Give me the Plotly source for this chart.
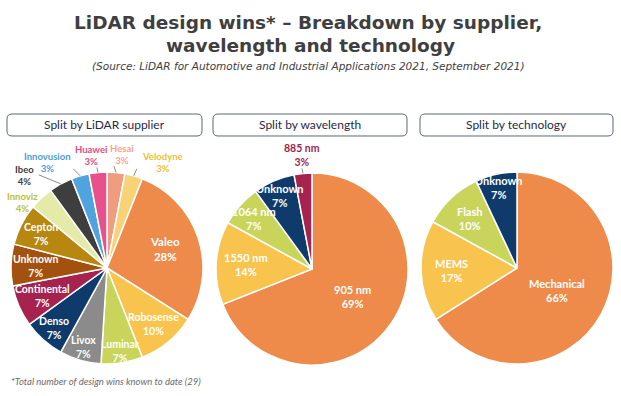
import math
import plotly.graph_objects as go

W, H = 621, 396

# ---------------- data ----------------
supplier_labels = ["Hesai", "Velodyne", "Valeo", "Robosense", "Luminar", "Livox", "Denso",
                   "Continental", "Unknown", "Cepton", "Innoviz", "Ibeo", "Innovusion", "Huawei"]
supplier_values = [3, 3, 28, 10, 7, 7, 7, 7, 7, 7, 4, 4, 3, 3]

wavelength_labels = ["905 nm", "1550 nm", "1064 nm", "Unknown", "885 nm"]
wavelength_values = [69, 14, 7, 7, 3]

technology_labels = ["Mechanical", "MEMS", "Flash", "Unknown"]
technology_values = [66, 17, 10, 7]

panel_titles = ["Split by LiDAR supplier", "Split by wavelength", "Split by technology"]

title_line1 = "LiDAR design wins* \u2013 Breakdown by supplier,"
title_line2 = "wavelength and technology"
subtitle = "(Source: LiDAR for Automotive and Industrial Applications 2021, September 2021)"
footnote = "*Total number of design wins known to date (29)"

# ---------------- styles ----------------
ORANGE = "#EE8A4A"
YELLOW = "#F8C44E"
YGREEN = "#C9D45B"
NAVY = "#0E3B6C"
CRIMSON = "#A6224F"

supplier_colors = ["#F09C7E", "#F8D276", ORANGE, YELLOW, YGREEN, "#8B8B8B", NAVY,
                   CRIMSON, "#A3510E", "#B8870F", "#E6EAA8", "#3E3E3E", "#4FA4DF", "#E8518A"]
wavelength_colors = [ORANGE, YELLOW, YGREEN, NAVY, CRIMSON]
technology_colors = [ORANGE, YELLOW, YGREEN, NAVY]

# pie geometry in pixels: centre x, centre y, radius
pie_geom = [(107, 268, 96), (312, 269, 96), (517, 268, 96)]

# inside-label radial fraction per slice
supplier_inside = {"Valeo": 0.63, "Robosense": 0.76, "Luminar": 0.88, "Livox": 0.86,
                   "Denso": 0.84, "Continental": 0.73, "Unknown": 0.74, "Cepton": 0.77}
wavelength_inside = {"905 nm": 0.51, "1550 nm": 0.69, "1064 nm": 0.80, "Unknown": 0.83}
technology_inside = {"Mechanical": 0.48, "MEMS": 0.68, "Flash": 0.71, "Unknown": 0.86}

# outside labels: label offset from slice edge point, leader-line end offset, colour
supplier_outside = {
    "Innoviz": ((-19, 4), None, "#B5C23A"),
    "Ibeo": ((-36, -8), (-22, -9), "#404040"),
    "Innovusion": ((-33, -13), (-7, -7), "#4A9ED8"),
    "Huawei": ((-7, -17), (-1, -5), "#E24C85"),
    "Hesai": ((6, -18), (-2, -6), "#F2A58A"),
    "Velodyne": ((29, -13), (3, -7), "#EDBE3A"),
}
wavelength_outside = {"885 nm": ((-1, -18), (-1, -5), "#A01F4E")}
technology_outside = {}

LABEL_FONT = "Lato"
TITLE_FONT = "DejaVu Sans"


def px(x):
    return x / W


def py(y):
    return 1 - y / H


fig = go.Figure()
annotations = []
shapes = []


def text_ann(x, y, text, size, color, family=LABEL_FONT, xanchor="center"):
    annotations.append(dict(x=px(x), y=py(y), xref="paper", yref="paper", text=text,
                            showarrow=False, xanchor=xanchor, yanchor="middle", borderpad=0,
                            font=dict(family=family, size=size, color=color)))


def add_pie(labels, values, colors, geom, inside, outside, size, out_size):
    cx, cy, r = geom
    fig.add_trace(go.Pie(
        labels=labels, values=values, sort=False, direction="clockwise", rotation=0,
        marker=dict(colors=colors, line=dict(color="white", width=1.5)),
        textinfo="none", hoverinfo="label+value", showlegend=False,
        domain=dict(x=[px(cx - r), px(cx + r)], y=[py(cy + r), py(cy - r)]),
    ))
    total = float(sum(values))
    cum = 0.0
    for lab, val in zip(labels, values):
        theta = 2 * math.pi * (cum + val / 2) / total
        cum += val
        s, c = math.sin(theta), math.cos(theta)
        txt = f"<b>{lab}<br>{val}%</b>"
        if lab in inside:
            f = inside[lab]
            x, y = cx + f * r * s, cy - f * r * c
            sz = size + 1 if lab == "Valeo" else size
            text_ann(x, y, txt, sz, "white")
        elif lab in outside:
            (ldx, ldy), tline, col = outside[lab]
            ex, ey = cx + r * s, cy - r * c
            if tline is not None:
                shapes.append(dict(type="line", xref="paper", yref="paper",
                                   x0=px(ex), y0=py(ey), x1=px(ex + tline[0]), y1=py(ey + tline[1]),
                                   line=dict(color="#8C8C8C", width=1)))
            text_ann(ex + ldx, ey + ldy, txt, out_size, col)


add_pie(supplier_labels, supplier_values, supplier_colors, pie_geom[0],
        supplier_inside, supplier_outside, 10.5, 9.5)
add_pie(wavelength_labels, wavelength_values, wavelength_colors, pie_geom[1],
        wavelength_inside, wavelength_outside, 11, 10.5)
add_pie(technology_labels, technology_values, technology_colors, pie_geom[2],
        technology_inside, technology_outside, 11, 10.5)


# header boxes (rounded rectangles)
def rounded_rect(x0, y0, x1, y1, rad):
    pts = [
        ("M", [(x0 + rad, y0)]), ("L", [(x1 - rad, y0)]), ("Q", [(x1, y0), (x1, y0 + rad)]),
        ("L", [(x1, y1 - rad)]), ("Q", [(x1, y1), (x1 - rad, y1)]),
        ("L", [(x0 + rad, y1)]), ("Q", [(x0, y1), (x0, y1 - rad)]),
        ("L", [(x0, y0 + rad)]), ("Q", [(x0, y0), (x0 + rad, y0)]),
    ]
    path = ""
    for cmd, plist in pts:
        path += cmd + " " + " ".join(f"{px(a):.5f},{py(b):.5f}" for a, b in plist) + " "
    return path + "Z"


header_boxes = [(7, 114, 202, 136), (213, 114, 407, 136), (420, 114, 613, 136)]
for (x0, y0, x1, y1), t in zip(header_boxes, panel_titles):
    shapes.append(dict(type="path", xref="paper", yref="paper", path=rounded_rect(x0, y0, x1, y1, 5),
                       line=dict(color="#5E6877", width=1), fillcolor="white", layer="below"))
    text_ann((x0 + x1) / 2, (y0 + y1) / 2, t, 12, "#1E2B45")

# titles
text_ann(308, 22, f"<b>{title_line1}</b>", 18.5, "#3F3F3F", family=TITLE_FONT)
text_ann(310, 46, f"<b>{title_line2}</b>", 18.5, "#3F3F3F", family=TITLE_FONT)
text_ann(308, 66, f"<i>{subtitle}</i>", 10.5, "#404040", family=TITLE_FONT)
text_ann(10, 381, f"<i>{footnote}</i>", 9.5, "#6B6B6B", xanchor="left")

fig.update_layout(
    width=W, height=H, margin=dict(l=0, r=0, t=0, b=0),
    paper_bgcolor="white", plot_bgcolor="white",
    annotations=annotations, shapes=shapes,
)

fig.write_html("out.html", config={"displayModeBar": False},
               post_script="document.body.style.margin='0px';document.body.style.overflow='hidden';")
